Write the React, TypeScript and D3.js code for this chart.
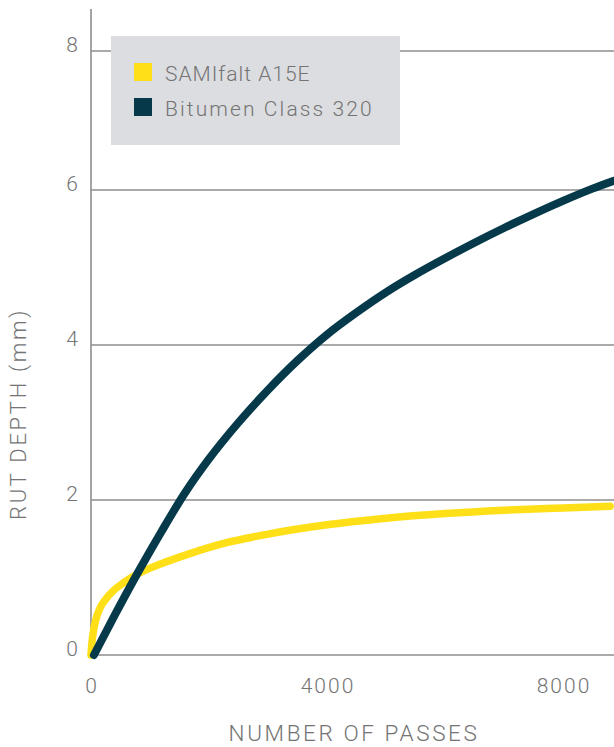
import React from "react";
import * as d3 from "d3";

const yTicks = [0, 2, 4, 6, 8];
const xTicks = [0, 4000, 8000];

const samifaltX = [0, 15, 40, 80, 150, 250, 380, 550, 800, 1200, 1700, 2250, 3000, 4000, 5000, 6000, 7000, 8000, 8800];
const samifaltY = [0, 0.15, 0.3, 0.45, 0.6, 0.72, 0.83, 0.93, 1.05, 1.18, 1.315, 1.44, 1.56, 1.68, 1.765, 1.825, 1.868, 1.898, 1.92];

const bitumenX = [50, 400, 800, 1200, 1600, 2000, 2500, 3000, 3500, 4000, 4500, 5000, 5500, 6000, 6500, 7000, 7500, 8000, 8500, 8850];
const bitumenY = [0, 0.51, 1.07, 1.6, 2.1, 2.53, 3.0, 3.42, 3.8, 4.135, 4.42, 4.68, 4.91, 5.12, 5.32, 5.51, 5.69, 5.86, 6.02, 6.13];

const seriesNames = ["SAMIfalt A15E", "Bitumen Class 320"];
const seriesColors = ["#ffdf17", "#063a4b"];

const W = 614;
const H = 747;
const FONT = "Roboto, 'Liberation Sans', Arial, sans-serif";
const TXT = "#747474";
const GRID = "#8e8e8e";

export default function App() {
  const x = d3.scaleLinear().domain([0, 8000]).range([91, 563]);
  const y = d3.scaleLinear().domain([0, 6, 8]).range([655, 190, 51]);

  const line = d3
    .line<[number, number]>()
    .x((d) => x(d[0]))
    .y((d) => y(d[1]))
    .curve(d3.curveMonotoneX);

  const sam: [number, number][] = samifaltX.map((v, i) => [v, samifaltY[i]]);
  const bit: [number, number][] = bitumenX.map((v, i) => [v, bitumenY[i]]);

  const xEnd = x.invert(W);

  return (
    <svg width={W} height={H} style={{ position: "absolute", left: 0, top: 0 }}>
      <rect width={W} height={H} fill="#ffffff" />
      {yTicks.map((t) => (
        <line key={"g" + t} x1={x(0)} x2={x(xEnd)} y1={y(t)} y2={y(t)} stroke={GRID} strokeWidth={1.4} />
      ))}
      <line x1={x(0)} x2={x(0)} y1={9} y2={y(0)} stroke={GRID} strokeWidth={1.6} />
      {yTicks.map((t) => (
        <text
          key={"yt" + t}
          x={78}
          y={y(t) + 1}
          textAnchor="end"
          fontFamily={FONT}
          fontWeight={300}
          fontSize={21}
          fill={TXT}
        >
          {t}
        </text>
      ))}
      {xTicks.map((t) => (
        <text
          key={"xt" + t}
          x={x(t) + 1}
          y={693}
          textAnchor="middle"
          fontFamily={FONT}
          fontWeight={300}
          fontSize={21}
          letterSpacing={2}
          fill={TXT}
        >
          {t}
        </text>
      ))}
      <text
        x={354}
        y={741}
        textAnchor="middle"
        fontFamily={FONT}
        fontWeight={300}
        fontSize={22.5}
        letterSpacing={2.6}
        fill={TXT}
      >
        NUMBER OF PASSES
      </text>
      <text
        transform={`translate(26,414) rotate(-90)`}
        textAnchor="middle"
        fontFamily={FONT}
        fontWeight={300}
        fontSize={22}
        letterSpacing={2.7}
        fill={TXT}
      >
        RUT DEPTH (mm)
      </text>

      <rect x={111} y={36} width={289} height={109} fill="#dcdde0" />
      {seriesNames.map((n, i) => (
        <g key={n}>
          <rect x={134} y={63 + i * 35} width={18} height={18} fill={seriesColors[i]} />
          <text
            x={165}
            y={81 + i * 35}
            fontFamily={FONT}
            fontWeight={300}
            fontSize={21}
            letterSpacing={i === 0 ? 1.0 : 2.1}
            fill={TXT}
          >
            {n}
          </text>
        </g>
      ))}

      <path d={line(sam) || ""} fill="none" stroke={seriesColors[0]} strokeWidth={7.5} strokeLinecap="round" />
      <path d={line(bit) || ""} fill="none" stroke={seriesColors[1]} strokeWidth={8} strokeLinecap="round" />
    </svg>
  );
}
